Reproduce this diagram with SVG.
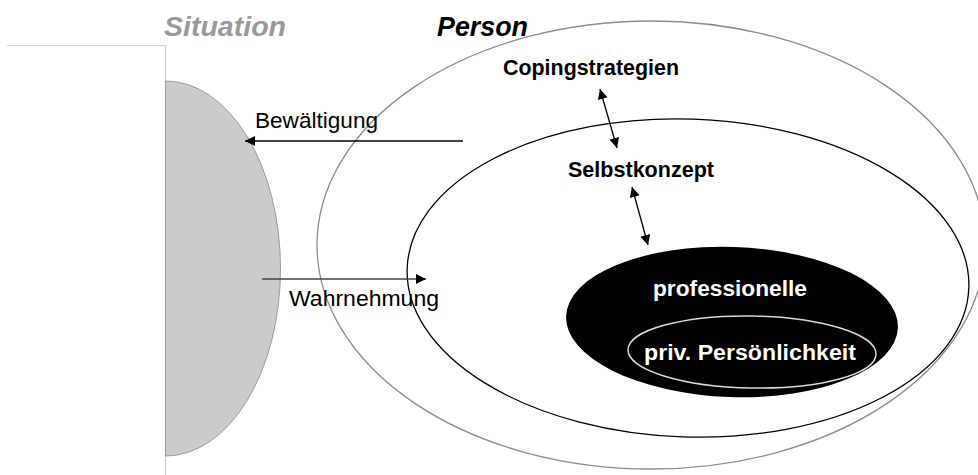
<svg xmlns="http://www.w3.org/2000/svg" width="978" height="475" viewBox="0 0 978 475">
<defs>
<marker id="ah" viewBox="0 0 10 10" refX="10" refY="5" markerWidth="12" markerHeight="10" markerUnits="userSpaceOnUse" orient="auto-start-reverse">
<path d="M0,0 L10,5 L0,10 Z" fill="#000"/>
</marker>
<style>
text{font-family:"Liberation Sans",Arial,sans-serif}
.title{font-size:28px;font-weight:bold;font-style:italic}
.lbl{font-size:22px;font-weight:bold;fill:#000}
.wl{font-size:22px;font-weight:bold;fill:#fff}
.rl{font-size:21.5px;fill:#000}
.conn{stroke:#000;stroke-width:1.3;fill:none}
</style>
</defs>
<rect width="978" height="475" fill="#fff"/>
<g id="situation">
<path d="M7,45.5 H165.5 V475" fill="none" stroke="#cfcfcf" stroke-width="1.2"/>
<path d="M165.5,81 A115,187.5 0 0 1 165.5,456 Z" fill="#cbcbcb" stroke="#9a9a9a" stroke-width="1"/>
<text class="title" x="164" y="36" fill="#999" textLength="122" lengthAdjust="spacingAndGlyphs">Situation</text>
</g>
<g id="person">
<ellipse cx="651" cy="245" rx="334" ry="224" fill="none" stroke="#8c8c8c" stroke-width="1.3"/>
<text class="title" x="437" y="36" fill="#000" textLength="91" lengthAdjust="spacingAndGlyphs">Person</text>
</g>
<g id="coping">
<text class="lbl" x="503" y="75" textLength="176" lengthAdjust="spacingAndGlyphs">Copingstrategien</text>
</g>
<g id="selbstkonzept">
<ellipse cx="688" cy="278" rx="281" ry="159" transform="rotate(2 688 278)" fill="none" stroke="#000" stroke-width="1.3"/>
<text class="lbl" x="568" y="177" textLength="146" lengthAdjust="spacingAndGlyphs">Selbstkonzept</text>
</g>
<g id="professionelle">
<ellipse cx="732" cy="322" rx="166" ry="75" transform="rotate(2 732 322)" fill="#000"/>
<text class="wl" x="653" y="296" textLength="154" lengthAdjust="spacingAndGlyphs">professionelle</text>
</g>
<g id="privat">
<ellipse cx="752" cy="352" rx="124" ry="36" transform="rotate(1 752 352)" fill="none" stroke="#d8d8d8" stroke-width="1.5"/>
<text class="wl" x="644" y="360" textLength="212" lengthAdjust="spacingAndGlyphs">priv. Persönlichkeit</text>
</g>
<g id="connectors">
<line class="conn" x1="463" y1="141" x2="245" y2="141" marker-end="url(#ah)"/>
<line x1="262" y1="279" x2="426" y2="279" stroke="#444" stroke-width="1.5" marker-end="url(#ah)"/>
<line class="conn" x1="600" y1="89" x2="617" y2="148" marker-start="url(#ah)" marker-end="url(#ah)"/>
<line class="conn" x1="632" y1="187" x2="648" y2="245" marker-start="url(#ah)" marker-end="url(#ah)"/>
<text class="rl" x="255" y="128" textLength="123" lengthAdjust="spacingAndGlyphs">Bewältigung</text>
<text class="rl" x="289" y="306" textLength="150" lengthAdjust="spacingAndGlyphs">Wahrnehmung</text>
</g>
</svg>
